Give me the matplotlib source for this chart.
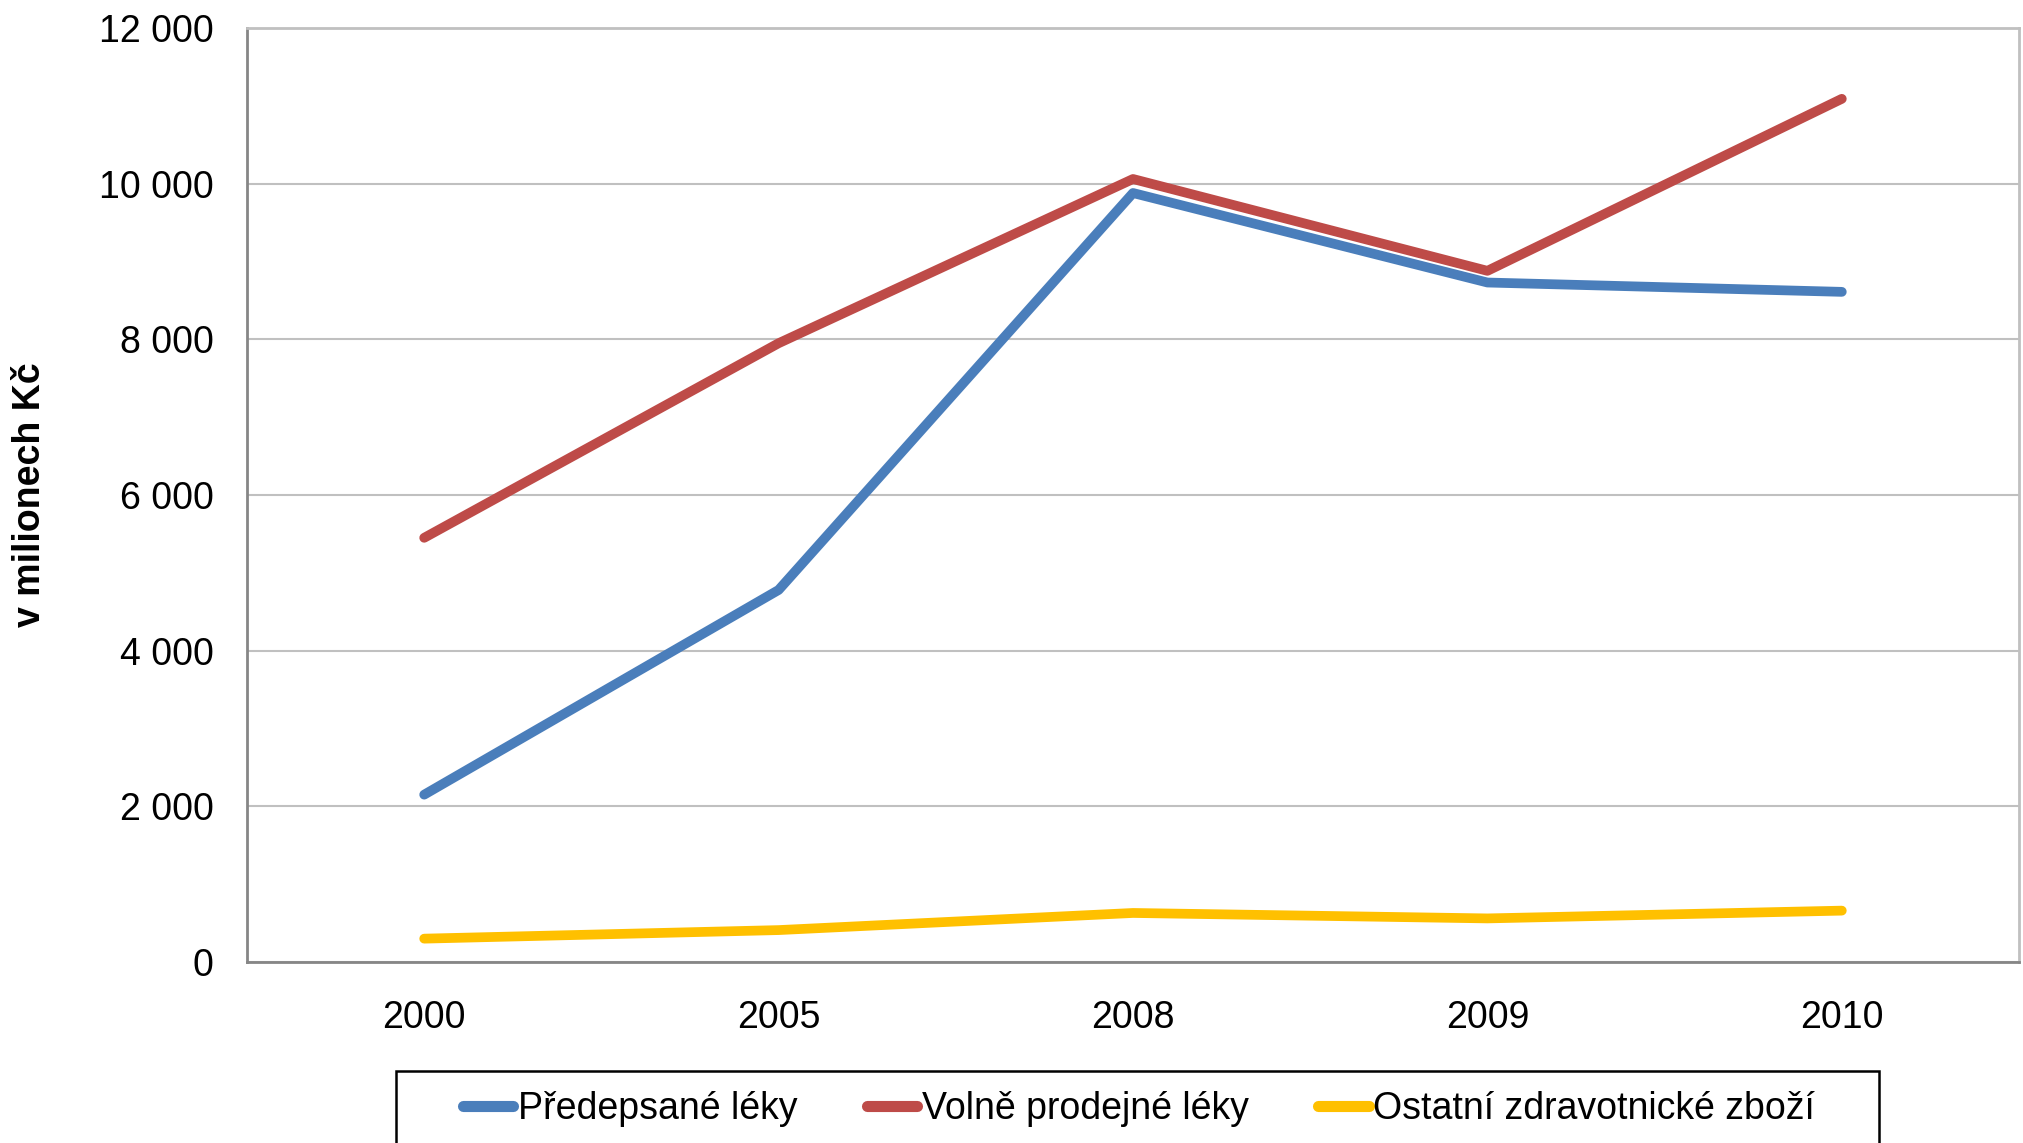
import matplotlib
matplotlib.use("Agg")
import matplotlib.pyplot as plt
from matplotlib.patches import Rectangle
from matplotlib.ticker import FuncFormatter

plt.rcParams["font.family"] = ["Liberation Sans", "DejaVu Sans"]

years = ["2000", "2005", "2008", "2009", "2010"]
predepsane = [2150, 4780, 9880, 8730, 8610]
volne = [5450, 7950, 10060, 8880, 11090]
ostatni = [300, 410, 630, 560, 660]

series = [
    ("Předepsané léky", predepsane, "#4a7ebb"),
    ("Volně prodejné léky", volne, "#be4b48"),
    ("Ostatní zdravotnické zboží", ostatni, "#ffc000"),
]

fig = plt.figure(figsize=(20.24, 11.43), dpi=100)
ax = fig.add_axes([247 / 2024, 1 - 962 / 1143, (2019 - 247) / 2024, (962 - 28) / 1143])

x = list(range(len(years)))
for label, vals, color in series:
    ax.plot(x, vals, color=color, linewidth=7, solid_capstyle="round",
            solid_joinstyle="round", label=label)

ax.set_xlim(-0.5, len(years) - 0.5)
ax.set_ylim(0, 12000)
ax.set_yticks(range(0, 12001, 2000))
ax.yaxis.set_major_formatter(FuncFormatter(lambda v, p: f"{int(v):,}".replace(",", " ")))
ax.set_xticks(x)
ax.set_xticklabels(years)
ax.tick_params(axis="both", length=0, labelsize=27)
ax.tick_params(axis="x", pad=27)
ax.tick_params(axis="y", pad=24)
ax.grid(axis="y", color="#c0c0c0", linewidth=1.5)
ax.set_axisbelow(True)
for side in ("left", "bottom"):
    ax.spines[side].set_color("#868686")
    ax.spines[side].set_linewidth(2)
for side in ("top", "right"):
    ax.spines[side].set_color("#c0c0c0")
    ax.spines[side].set_linewidth(2)

ax.set_ylabel("v milionech Kč", fontsize=27, fontweight="bold")
ax.yaxis.label.set_va("center")
ax.yaxis.set_label_coords(-(247 - 30) / 1772, 0.5)

# legend frame runs off the bottom of the picture
fig.patches.append(Rectangle((396 / 2024, -0.05), (1879 - 396) / 2024, 0.05 + 1 - 1071 / 1143,
                             transform=fig.transFigure, fill=False,
                             edgecolor="black", linewidth=1.8))
leg = fig.legend(loc="center", bbox_to_anchor=(1139 / 2024, 1 - 1109 / 1143), ncol=3,
                 frameon=False, fontsize=27, handlelength=1.35, handletextpad=0.12,
                 columnspacing=1.85)
for h in leg.get_lines():
    h.set_linewidth(8)

fig.savefig("out.png", dpi=100)
